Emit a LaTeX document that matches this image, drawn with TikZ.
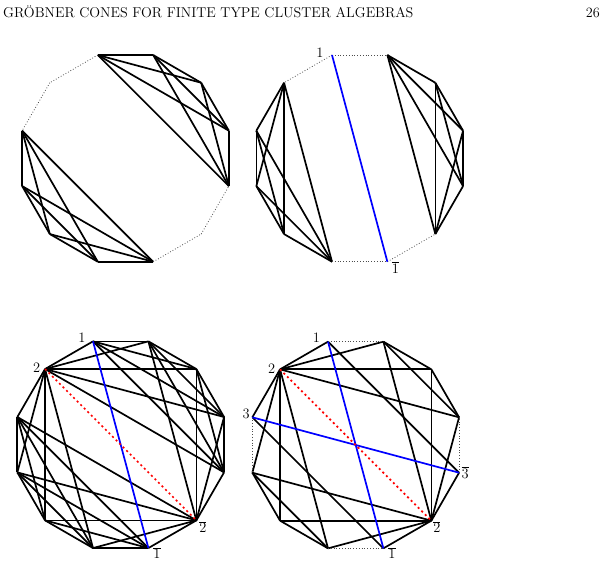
\documentclass[tikz,border=0pt]{standalone}
\usetikzlibrary{calc}

\tikzset{
  side/.style={black, line width=1.7pt},
  gap/.style={black!70, dotted, line width=0.8pt},
  diam/.style={blue, line width=1.7pt},
  mid/.style={red, line width=1.7pt, dash pattern=on 2pt off 3pt},
  lab/.style={font=\fontsize{14}{16}\selectfont, inner sep=0pt},
}

\begin{document}
\begin{tikzpicture}[x=1pt, y=1pt]
\useasboundingbox (0,0) rectangle (607,-565);

\node[anchor=base west, inner sep=0pt, font=\fontsize{14.2}{17}\selectfont] (head) at (3,-17) {GR\"OBNER CONES FOR FINITE TYPE CLUSTER ALGEBRAS};
\node[anchor=base east, inner sep=0pt, font=\fontsize{14.2}{17}\selectfont] (page) at (600,-17) {26};

% vertices of the four 12-gons
\foreach \p/\cx/\cy in {a/125.5/-158.4, b/359.7/-158.4, c/120.7/-444.7, d/355.7/-445.0}
  \foreach \k in {0,...,11}
    \coordinate (\p\k) at ($(\cx,\cy)+({105+30*\k}:107)$);

% top left
\foreach \i/\j in {2/3,2/4,2/5,2/6,3/4,3/5,3/6,4/5,4/6,5/6,8/9,8/10,8/11,8/0,9/10,9/11,9/0,10/11,10/0,11/0}
  \draw[side] (a\i) -- (a\j);
\foreach \i/\j in {0/1,1/2,6/7,7/8}
  \draw[gap] (a\i) -- (a\j);

% top right
\foreach \i/\j in {1/2,1/3,1/4,1/5,2/3,2/4,2/5,3/4,3/5,4/5,7/8,7/9,7/10,7/11,8/9,8/10,8/11,9/10,9/11,10/11}
  \draw[side] (b\i) -- (b\j);
\foreach \i/\j in {0/1,0/11,5/6,6/7}
  \draw[gap] (b\i) -- (b\j);
\draw[diam] (b0) -- (b6);
\node[lab] (b0lab) at ($(b0)+(-12,2.5)$) {$1$};
\node[lab] (b6lab) at ($(b6)+(8,-5.7)$) {$\overline{1}$};

% bottom left
\foreach \i/\j in {0/1,1/2,2/3,3/4,4/5,5/6,6/7,7/8,8/9,9/10,10/11,11/0,
                   1/10,10/7,7/4,4/1,0/8,0/9,0/10,6/2,6/3,6/4,
                   1/3,1/5,1/8,1/9,1/11,7/9,7/11,7/2,7/3,7/5,
                   2/4,2/5,8/10,8/11,3/5,9/11}
  \draw[side] (c\i) -- (c\j);
\draw[diam] (c0) -- (c6);
\draw[mid] (c1) -- (c7);
\node[lab] (c0lab) at ($(c0)+(-11,3)$) {$1$};
\node[lab] (c1lab) at ($(c1)+(-8.3,1)$) {$2$};
\node[lab] (c6lab) at ($(c6)+(8.6,-5)$) {$\overline{1}$};
\node[lab] (c7lab) at ($(c7)+(6.6,-6.6)$) {$\overline{2}$};

% bottom right
\foreach \i/\j in {0/1,1/2,3/4,4/5,6/7,7/8,9/10,10/11,
                   0/8,2/6,1/3,1/4,1/5,1/9,1/10,1/11,
                   7/9,7/10,7/11,7/3,7/4,7/5,3/5,9/11}
  \draw[side] (d\i) -- (d\j);
\foreach \i/\j in {0/11,2/3,5/6,8/9}
  \draw[gap] (d\i) -- (d\j);
\draw[diam] (d0) -- (d6);
\draw[diam] (d2) -- (d8);
\draw[mid] (d1) -- (d7);
\node[lab] (d0lab) at ($(d0)+(-11.7,3.9)$) {$1$};
\node[lab] (d1lab) at ($(d1)+(-8.3,0.5)$) {$2$};
\node[lab] (d2lab) at ($(d2)+(-6.3,3.3)$) {$3$};
\node[lab] (d6lab) at ($(d6)+(8.6,-4.6)$) {$\overline{1}$};
\node[lab] (d7lab) at ($(d7)+(5.6,-6.3)$) {$\overline{2}$};
\node[lab] (d8lab) at ($(d8)+(6,0)$) {$\overline{3}$};

\end{tikzpicture}
\end{document}
